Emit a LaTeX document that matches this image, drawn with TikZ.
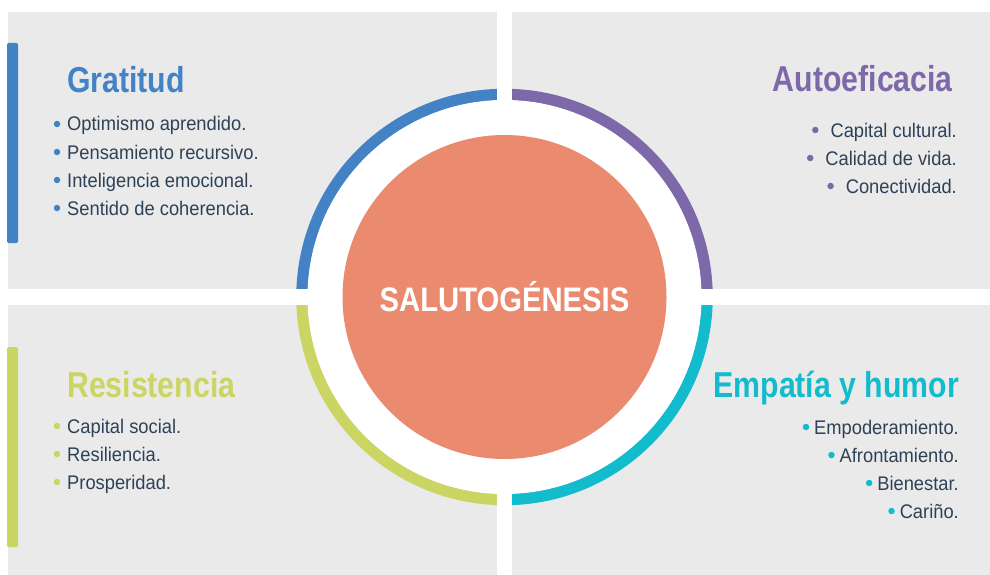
\documentclass[tikz,border=0pt]{standalone}
\usepackage{fontspec}
\setmainfont{Liberation Sans}
\newfontfamily\headfont[FakeStretch=0.84]{Liberation Sans}
\newfontfamily\corefont[FakeStretch=0.86]{Liberation Sans}
\newfontfamily\bodyfont[FakeStretch=0.93]{Liberation Sans}
\usepackage{xcolor}
\usepackage{tikz}
\usetikzlibrary{positioning, calc}
\definecolor{panelgray}{HTML}{EAEAEA}
\definecolor{gratblue}{HTML}{4383C5}
\definecolor{autopurple}{HTML}{7D68A9}
\definecolor{empcyan}{HTML}{12BCCD}
\definecolor{resgreen}{HTML}{CBD563}
\definecolor{coreorange}{HTML}{EA8A6E}
\definecolor{textnavy}{HTML}{2E4257}

\begin{document}
\begin{tikzpicture}[x=1pt,y=-1pt,
  head/.style={inner sep=0pt, font=\headfont\bfseries\fontsize{36}{40}\selectfont},
  item/.style={inner sep=0pt, text=textnavy, font=\bodyfont\fontsize{19.7}{23}\selectfont},
  dot/.style={circle, inner sep=0pt, minimum size=6.5pt}]
% Canvas
\fill[white] (0,0) rectangle (990,575);
% Panels
\fill[panelgray] (8,12) rectangle (497,289);
\fill[panelgray] (512,12) rectangle (990,289);
\fill[panelgray] (8,305) rectangle (497,575);
\fill[panelgray] (512,305) rectangle (990,575);
% Side bars
\fill[gratblue, rounded corners=1.5pt] (7,43) rectangle (18,243);
\fill[resgreen, rounded corners=1.5pt] (7,347) rectangle (18,547);
% Ring arcs
\coordinate (C) at (504.5,297);
\draw[gratblue, line width=11.5pt] (C) ++(180:202.5) arc[start angle=180, end angle=270, radius=202.5];
\draw[autopurple, line width=11.5pt] (C) ++(270:202.5) arc[start angle=270, end angle=360, radius=202.5];
\draw[empcyan, line width=11.5pt] (C) ++(0:202.5) arc[start angle=0, end angle=90, radius=202.5];
\draw[resgreen, line width=11.5pt] (C) ++(90:202.5) arc[start angle=90, end angle=180, radius=202.5];
% Gaps of the cross
\fill[white] (497,0) rectangle (512,575);
\fill[white] (0,289) rectangle (990,305);
% Centre
\fill[white] (C) circle (197);
\fill[coreorange] (C) circle (162);
\node[inner sep=0pt, text=white, font=\corefont\bfseries\fontsize{34}{38}\selectfont]
  (salut) at (C) {SALUTOGÉNESIS};
% Gratitud
\node[head, text=gratblue, anchor=base west] (gratitud) at (67,93) {Gratitud};
\foreach \txt [count=\i, evaluate=\i as \yy using 103+28*\i] in
  {Optimismo aprendido., Pensamiento recursivo., Inteligencia emocional., Sentido de coherencia.}{
  \node[item, anchor=base west] (g\i) at (67,\yy) {\txt};
  \node[dot, fill=gratblue] (gd\i) at ($(g\i.base west)+(-10,-7)$) {};
}
% Autoeficacia
\node[head, text=autopurple, anchor=base east] (autoef) at (953,92) {Autoeficacia};
\foreach \txt [count=\i, evaluate=\i as \yy using 109+28*\i] in
  {Capital cultural., Calidad de vida., Conectividad.}{
  \node[item, anchor=base east] (a\i) at (957,\yy) {\txt};
  \node[dot, fill=autopurple] (ad\i) at ($(a\i.base west)+(-15,-7)$) {};
}
% Resistencia
\node[head, text=resgreen, anchor=base west] (resist) at (67,397) {Resistencia};
\foreach \txt [count=\i, evaluate=\i as \yy using 405+28*\i] in
  {Capital social., Resiliencia., Prosperidad.}{
  \node[item, anchor=base west] (r\i) at (67,\yy) {\txt};
  \node[dot, fill=resgreen] (rd\i) at ($(r\i.base west)+(-10,-7)$) {};
}
% Empatia y humor
\node[head, text=empcyan, anchor=base east] (empatia) at (959,397) {Empatía y humor};
\foreach \txt [count=\i, evaluate=\i as \yy using 406+28*\i] in
  {Empoderamiento., Afrontamiento., Bienestar., Cariño.}{
  \node[item, anchor=base east] (e\i) at (959,\yy) {\txt};
  \node[dot, fill=empcyan] (ed\i) at ($(e\i.base west)+(-8,-7)$) {};
}
\end{tikzpicture}
\end{document}
